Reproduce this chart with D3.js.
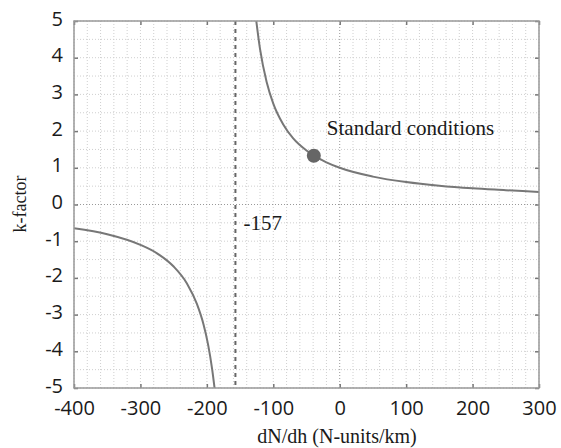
<!DOCTYPE html>
<html>
<head>
  <meta charset="utf-8">
  <script src="https://cdnjs.cloudflare.com/ajax/libs/d3/7.8.5/d3.min.js"></script>
  <title>k-factor</title>
  <style>
    body { margin: 0; background: #fff; }
    .tick text { font-family: "Open Sans", "DejaVu Sans", sans-serif; font-size: 20px; fill: #1a1a1a; }
    .serif { font-family: "Liberation Serif", "DejaVu Serif", serif; fill: #1a1a1a; }
  </style>
</head>
<body>
<script>
// values
var leftX = [-400, -350, -300, -275, -250, -230, -215, -205, -198, -192, -188];
var leftK = [-0.65, -0.81, -1.10, -1.33, -1.69, -2.15, -2.71, -3.27, -3.83, -4.49, -5.06];
var rightX = [-126, -120, -110, -100, -85, -70, -50, -39, -20, 0, 50, 100, 150, 200, 250, 300];
var rightK = [5.06, 4.24, 3.34, 2.75, 2.18, 1.80, 1.47, 1.33, 1.15, 1.00, 0.76, 0.61, 0.51, 0.44, 0.39, 0.34];
var asymptote = -157;
var standard = [-39, 1.33];
var xTicks = [-400, -300, -200, -100, 0, 100, 200, 300];
var yTicks = [-5, -4, -3, -2, -1, 0, 1, 2, 3, 4, 5];

var W = 561, H = 448;
var margin = {top: 21, right: 22, bottom: 60, left: 74};
var width = W - margin.left - margin.right,
    height = H - margin.top - margin.bottom;

var svg = d3.select("body").append("svg")
    .attr("width", W)
    .attr("height", H);

var g = svg.append("g")
    .attr("transform", "translate(" + margin.left + "," + margin.top + ")");

var x = d3.scaleLinear().domain([-400, 300]).range([0, width]);
var y = d3.scaleLinear().domain([-5, 5]).range([height, 0]);

g.append("clipPath").attr("id", "clip")
  .append("rect").attr("width", width).attr("height", height);

// minor grid
g.selectAll(".gx").data(d3.range(-400, 301, 20))
  .enter().append("line")
    .attr("x1", d => x(d)).attr("x2", d => x(d))
    .attr("y1", 0).attr("y2", height)
    .attr("stroke", d => d === 0 ? "#999" : "#cfcfcf")
    .attr("stroke-width", 1)
    .attr("stroke-dasharray", "1,2");
g.selectAll(".gy").data(d3.range(-5, 5.01, 0.5))
  .enter().append("line")
    .attr("y1", d => y(d)).attr("y2", d => y(d))
    .attr("x1", 0).attr("x2", width)
    .attr("stroke", d => d === 0 ? "#999" : "#cfcfcf")
    .attr("stroke-width", 1)
    .attr("stroke-dasharray", "1,2");

// asymptote
g.append("line")
  .attr("x1", x(asymptote)).attr("x2", x(asymptote))
  .attr("y1", 0).attr("y2", height)
  .attr("stroke", "#666")
  .attr("stroke-width", 2)
  .attr("stroke-dasharray", "4,4");

var line = d3.line()
  .x(d => x(d[0]))
  .y(d => y(d[1]))
  .curve(d3.curveMonotoneX);

[d3.zip(leftX, leftK), d3.zip(rightX, rightK)].forEach(function(pts) {
  g.append("path")
    .datum(pts)
    .attr("clip-path", "url(#clip)")
    .attr("fill", "none")
    .attr("stroke", "#777")
    .attr("stroke-width", 2)
    .attr("d", line);
});

g.append("circle")
  .attr("cx", x(standard[0])).attr("cy", y(standard[1]))
  .attr("r", 7)
  .attr("fill", "#666");

g.append("text").attr("class", "serif")
  .attr("x", x(standard[0]) + 13).attr("y", 135 - margin.top)
  .style("font-size", "21px")
  .text("Standard conditions");

g.append("text").attr("class", "serif")
  .attr("x", x(asymptote) + 8).attr("y", 230 - margin.top)
  .style("font-size", "21px")
  .text("-157");

// axes
var fmt = d => String(d);
var xAxis = d3.axisBottom(x).tickValues(xTicks).tickFormat(fmt).tickSize(-4).tickPadding(13);
var yAxis = d3.axisLeft(y).tickValues(yTicks).tickFormat(fmt).tickSize(-4).tickPadding(11);

g.append("g").attr("transform", "translate(0," + height + ")").call(xAxis);
g.append("g").call(yAxis).selectAll("text").attr("dy", "0.2em");
g.append("g").call(d3.axisTop(x).tickValues(xTicks).tickSize(-4).tickFormat(""));
g.append("g").attr("transform", "translate(" + width + ",0)")
  .call(d3.axisRight(y).tickValues(yTicks).tickSize(-4).tickFormat(""));

g.selectAll(".domain").remove();
g.selectAll(".tick line").attr("stroke", "#777").attr("stroke-width", 1.5);

g.append("rect")
  .attr("width", width).attr("height", height)
  .attr("fill", "none")
  .attr("stroke", "#999")
  .attr("stroke-width", 1.5);

svg.append("text").attr("class", "serif")
  .attr("x", 337).attr("y", 443)
  .attr("text-anchor", "middle")
  .style("font-size", "20px")
  .text("dN/dh (N-units/km)");

svg.append("text").attr("class", "serif")
  .attr("transform", "translate(26,204) rotate(-90)")
  .attr("text-anchor", "middle")
  .style("font-size", "18px")
  .text("k-factor");
</script>
</body>
</html>
